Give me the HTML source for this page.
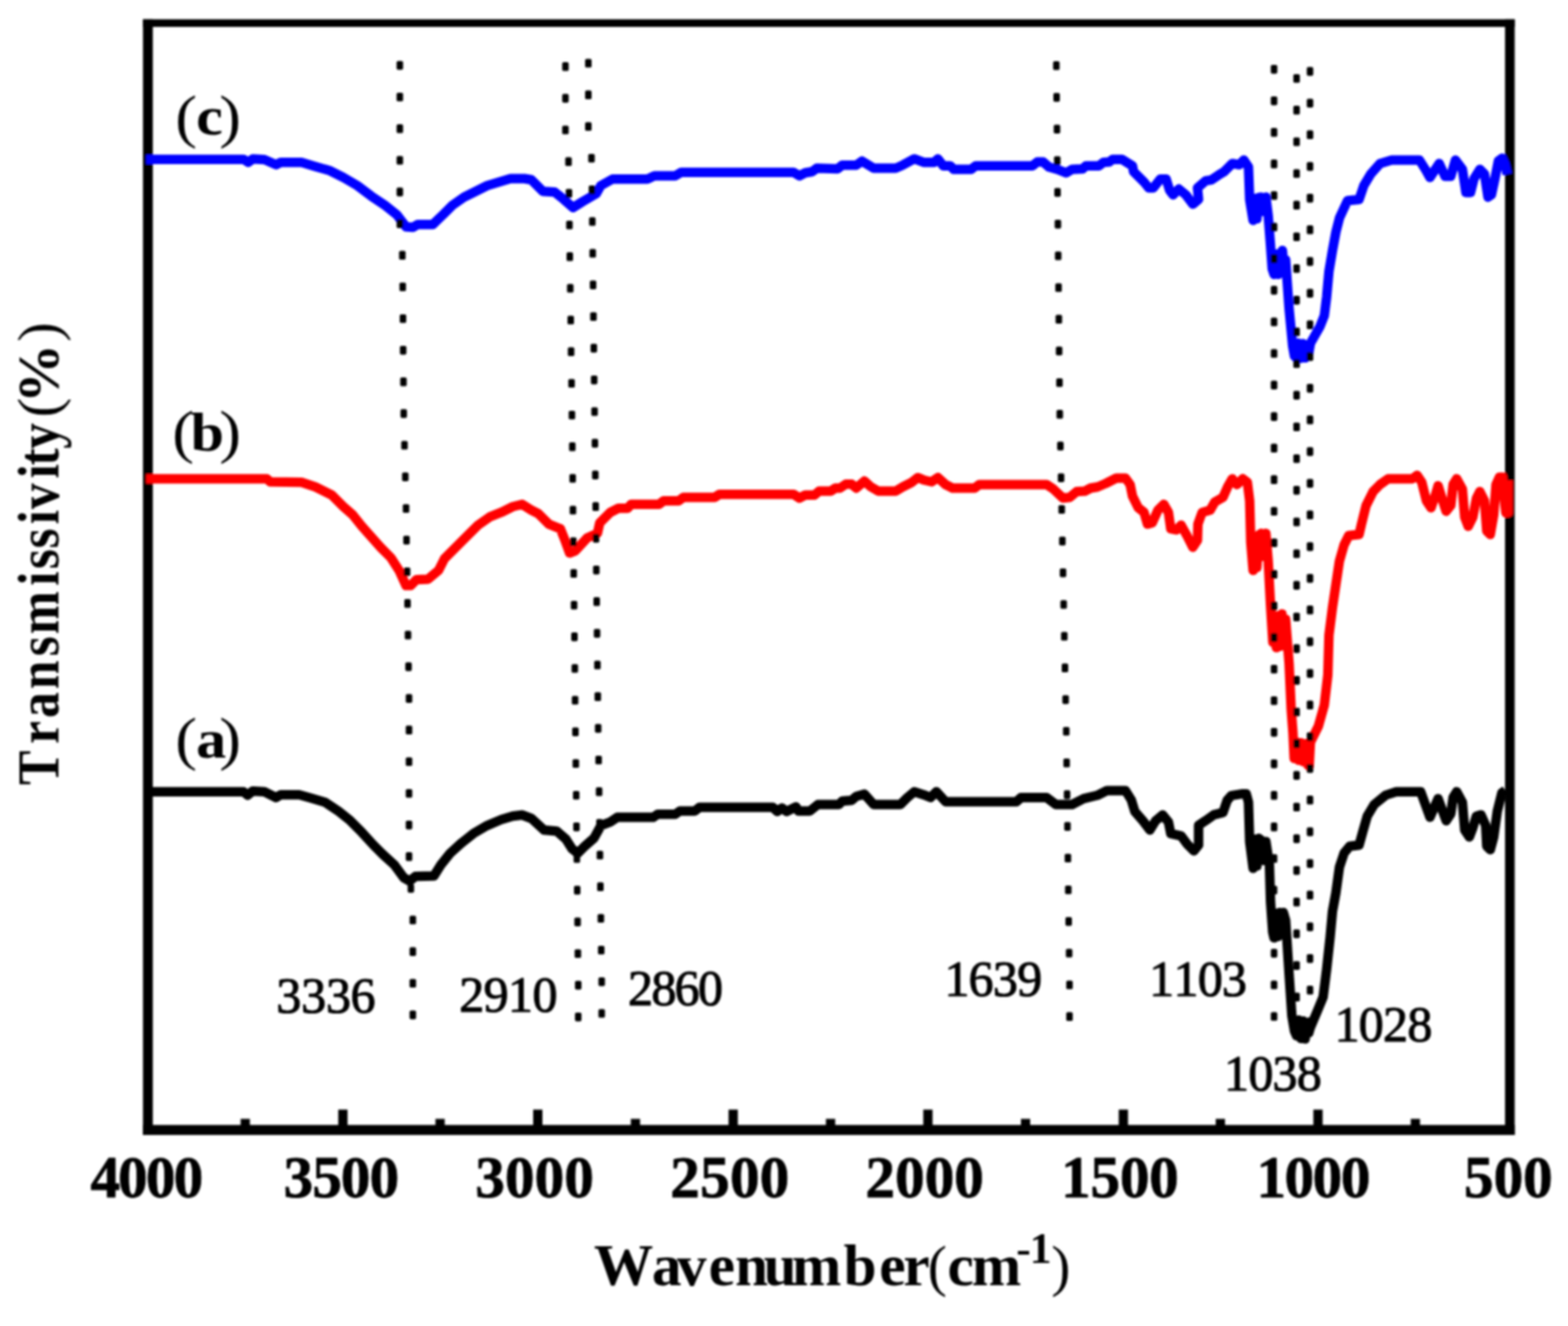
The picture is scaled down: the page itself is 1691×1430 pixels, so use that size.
<!DOCTYPE html>
<html lang="en">
<head>
<meta charset="utf-8">
<title>FTIR spectra</title>
<style>
html,body{margin:0;padding:0;background:#fff;}
body{width:1691px;height:1430px;overflow:hidden;}
svg{display:block;}
text{font-family:"Liberation Serif","DejaVu Serif",serif;fill:#000;}
.tk{font-weight:bold;font-size:64px;stroke:#000;stroke-width:0.8px;stroke-linejoin:round;}
.pk{font-size:54px;stroke:#000;stroke-width:1.1px;stroke-linejoin:round;}
.lb{font-weight:bold;font-size:59px;}
.ax{font-weight:bold;font-size:64px;}
.par{font-weight:normal;}
</style>
</head>
<body>
<svg width="1691" height="1430" viewBox="0 0 1691 1430">
<defs><filter id="soft" filterUnits="userSpaceOnUse" x="0" y="0" width="1691" height="1430"><feGaussianBlur stdDeviation="1.1"/></filter></defs>
<rect x="0" y="0" width="1691" height="1430" fill="#fff"/>
<g filter="url(#soft)">
<g class="frame" fill="#000">
<rect x="154.2" y="20.8" width="10.6" height="1203.2"/>
<rect x="1623.1" y="20.8" width="10.4" height="1203.2"/>
<rect x="154.2" y="20.8" width="1479.3" height="8.2"/>
<rect x="154.2" y="1213.2" width="1479.3" height="10.8"/>
<rect x="259.5" y="1206.6" width="10" height="9.4"/>
<rect x="364.8" y="1196.6" width="10" height="19.4"/>
<rect x="469.6" y="1206.6" width="10" height="9.4"/>
<rect x="575.0" y="1196.6" width="10" height="19.4"/>
<rect x="680.3" y="1206.6" width="10" height="9.4"/>
<rect x="785.7" y="1196.6" width="10" height="19.4"/>
<rect x="890.7" y="1206.6" width="10" height="9.4"/>
<rect x="995.7" y="1196.6" width="10" height="19.4"/>
<rect x="1101.0" y="1206.6" width="10" height="9.4"/>
<rect x="1206.5" y="1196.6" width="10" height="19.4"/>
<rect x="1311.1" y="1206.6" width="10" height="9.4"/>
<rect x="1416.4" y="1196.6" width="10" height="19.4"/>
<rect x="1521.4" y="1206.6" width="10" height="9.4"/>
</g>
<g class="curves">
<polyline points="157.5,171.8 262.6,171.8 267.6,175.1 272.7,171.3 285.2,172.1 297.7,177.6 302.7,175.1 325.2,175.1 340.2,179.6 355.3,183.9 370.3,191.4 385.3,200.1 400.3,211.4 415.3,221.4 427.8,231.4 437.9,244.7 445.4,245.2 450.4,242.2 466.6,242.2 477.9,231.4 487.9,221.4 500.4,212.6 513.0,206.4 525.5,200.1 538.0,196.4 550.5,192.6 565.5,192.6 573.0,193.9 585.5,206.4 598.0,207.1 608.0,215.1 618.0,223.9 628.0,217.6 643.0,208.9 648.0,200.1 660.6,193.1 698.2,193.1 705.7,189.6 728.2,189.6 734.5,185.9 855.9,185.9 862.1,189.6 868.4,186.4 875.9,185.1 880.9,181.4 903.4,182.1 908.4,178.1 923.4,178.1 929.7,173.8 942.2,181.4 966.0,181.4 973.5,178.1 986.0,171.3 996.0,175.1 1007.3,175.1 1011.5,171.3 1017.3,178.8 1024.8,178.8 1028.5,182.6 1047.3,182.6 1052.3,178.8 1113.6,178.8 1118.7,174.6 1124.9,174.6 1131.2,180.1 1139.9,182.6 1149.9,186.4 1156.2,182.6 1167.5,182.1 1171.2,178.8 1185.0,178.8 1190.0,175.1 1196.3,174.6 1200.0,171.8 1210.0,171.8 1221.3,178.8 1222.5,185.1 1233.8,196.4 1238.8,202.6 1243.8,202.6 1251.3,193.1 1257.6,193.1 1261.3,205.1 1265.1,210.1 1271.3,203.9 1278.9,210.1 1286.4,220.2 1292.6,215.1 1291.4,202.6 1300.1,195.1 1306.4,193.9 1313.9,188.9 1320.2,185.1 1328.9,176.3 1336.4,177.6 1341.4,172.6 1346.4,180.1 1347.7,215.1 1351.4,237.7 1353.5,214.0 1355.5,236.0 1357.5,213.0 1360.0,212.6 1362.5,228.0 1365.2,212.6 1367.7,232.7 1370.2,265.2 1372.0,290.0 1374.0,296.0 1376.0,274.0 1378.5,296.0 1381.0,273.0 1383.0,270.0 1384.8,291.0 1386.5,280.2 1390.2,332.8 1394.0,372.8 1396.0,384.0 1398.2,386.0 1400.0,370.0 1402.5,386.5 1405.0,370.5 1407.5,386.0 1410.0,372.0 1411.5,380.0 1413.2,370.3 1423.2,352.8 1428.2,340.3 1430.7,320.3 1433.2,292.7 1437.0,270.2 1440.7,250.2 1444.5,235.2 1453.2,216.4 1465.7,215.1 1470.8,200.1 1478.3,187.6 1488.3,176.3 1500.8,172.6 1530.8,172.6 1537.1,182.6 1542.1,191.4 1547.1,183.9 1552.1,176.3 1558.4,190.1 1564.6,190.1 1569.6,172.6 1577.1,182.6 1580.9,207.6 1585.9,207.6 1589.7,192.6 1595.9,182.6 1600.9,187.6 1604.7,212.6 1608.4,210.1 1612.2,192.6 1615.9,173.6 1620.0,170.5 1623.0,177.0 1625.5,188.0" fill="none" stroke="#0000ff" stroke-width="10.2" stroke-linejoin="round" stroke-linecap="butt"/>
<polyline points="157.5,516.3 287.7,516.3 291.4,519.6 325.2,520.1 340.2,525.1 357.8,533.9 370.3,546.4 380.3,555.1 390.3,567.7 400.3,578.9 410.3,590.2 421.6,601.5 430.4,615.2 437.9,631.5 442.9,631.5 449.1,625.2 461.6,624.7 472.9,615.2 479.2,602.7 490.4,591.4 502.9,578.9 515.5,566.4 528.0,557.6 540.5,552.6 553.0,546.4 563.0,543.9 573.0,550.1 580.5,553.9 591.8,565.2 604.3,570.2 609.3,582.7 614.3,596.4 620.6,593.9 633.1,580.2 644.3,575.2 646.8,563.9 658.1,552.6 666.9,548.1 676.9,548.1 680.6,543.9 710.7,543.9 715.7,540.1 731.9,540.1 737.0,536.4 770.7,536.4 775.8,533.1 855.9,533.1 862.1,537.1 868.4,533.9 878.4,533.9 883.4,529.6 895.9,529.6 900.9,526.4 905.9,526.4 912.2,522.1 918.4,522.1 923.4,526.4 932.2,518.8 938.5,524.6 947.2,529.6 966.0,529.6 973.5,525.1 983.5,520.1 989.8,515.1 996.0,517.6 1004.8,519.6 1011.5,515.1 1019.8,522.6 1027.3,526.4 1051.1,526.4 1056.1,522.6 1128.7,522.6 1136.2,527.6 1146.2,537.1 1153.7,536.4 1161.2,530.1 1170.0,529.6 1176.2,526.4 1183.7,525.1 1192.5,521.4 1203.8,515.6 1213.8,515.6 1218.8,522.6 1221.3,535.1 1227.5,547.6 1233.8,552.6 1237.5,565.2 1242.6,563.9 1248.8,550.1 1255.1,543.9 1260.1,552.6 1262.6,570.2 1268.8,571.4 1273.8,566.4 1280.1,577.7 1286.4,590.2 1291.4,582.7 1291.9,565.2 1296.4,552.6 1305.1,550.1 1310.1,541.4 1318.9,536.4 1323.9,525.1 1328.9,516.3 1333.9,522.6 1340.2,516.3 1345.2,520.1 1347.7,540.1 1348.9,585.2 1351.4,615.2 1353.5,580.0 1355.5,612.0 1357.5,577.0 1360.2,575.2 1362.5,600.0 1365.2,575.2 1367.7,605.2 1370.2,652.8 1372.7,692.8 1374.5,664.0 1376.5,698.5 1378.5,664.0 1380.5,697.0 1382.5,662.0 1384.5,694.0 1386.5,667.8 1390.2,715.3 1392.5,765.4 1394.4,790.4 1395.7,817.9 1398.0,800.0 1400.5,820.0 1403.0,801.0 1405.5,821.5 1408.0,802.0 1410.5,825.0 1411.9,826.0 1413.2,800.4 1421.9,782.9 1428.2,760.3 1432.0,727.8 1433.2,685.2 1437.0,655.2 1440.7,630.2 1444.5,605.1 1449.5,587.6 1454.5,577.6 1465.7,576.4 1468.3,565.1 1473.3,545.1 1480.8,530.1 1488.3,522.5 1497.0,516.3 1523.3,516.3 1528.3,512.5 1533.3,520.0 1538.3,540.1 1543.3,547.6 1548.4,532.6 1550.9,523.8 1555.9,540.1 1559.6,551.3 1564.6,545.1 1567.1,522.5 1570.9,516.3 1577.1,527.5 1579.6,557.6 1583.4,567.6 1588.4,557.6 1592.2,537.6 1595.9,530.1 1600.9,540.1 1603.4,572.6 1607.2,576.5 1610.9,555.1 1613.4,522.5 1617.0,514.5 1620.5,514.5 1622.5,540.0 1624.0,553.0 1626.5,553.0 1626.5,518.0" fill="none" stroke="#ff0000" stroke-width="10.2" stroke-linejoin="round" stroke-linecap="butt"/>
<polyline points="157.5,853.9 262.6,853.9 267.1,857.6 272.7,853.1 285.2,853.9 297.7,860.1 302.7,857.1 322.7,857.1 335.2,860.6 350.3,865.1 365.3,875.1 377.8,885.1 390.3,897.7 402.8,911.4 412.8,921.4 425.3,932.7 435.4,946.5 441.6,950.2 447.9,945.2 467.9,944.7 475.4,932.7 485.4,920.2 497.9,908.9 510.5,898.9 525.5,890.2 540.5,883.9 553.0,880.1 563.0,878.9 573.0,882.6 586.8,895.2 600.5,896.4 610.5,905.2 616.8,915.2 623.1,920.2 630.6,912.7 640.6,903.9 648.1,890.2 658.1,886.4 665.6,881.4 704.4,881.4 709.4,878.1 728.2,878.1 733.2,874.6 749.5,874.6 754.5,870.6 833.3,870.6 838.3,875.1 843.3,871.4 848.3,875.1 858.4,870.1 860.9,874.6 873.4,874.6 882.1,867.6 904.7,867.6 908.4,863.9 918.4,863.1 923.4,858.9 932.2,856.4 942.2,867.6 971.0,867.6 978.5,860.1 986.0,853.9 996.0,857.1 1003.5,860.1 1009.8,853.8 1019.8,864.6 1096.1,864.6 1101.1,860.1 1128.7,860.1 1138.7,867.6 1156.2,867.6 1168.7,861.3 1183.7,857.6 1193.7,852.6 1213.8,852.6 1220.0,862.6 1223.8,875.1 1232.5,885.1 1240.1,895.1 1246.3,885.1 1253.8,878.8 1260.1,886.4 1262.6,898.9 1273.8,901.4 1280.1,910.1 1287.6,917.6 1292.6,911.4 1292.6,890.1 1300.1,885.1 1308.9,878.8 1318.9,876.3 1323.5,863.0 1328.0,858.0 1340.2,856.0 1344.0,856.0 1346.4,865.1 1347.7,907.6 1351.4,936.4 1353.5,905.0 1355.5,934.0 1357.5,904.0 1360.2,906.0 1362.5,928.0 1365.2,907.6 1369.0,932.7 1370.2,972.7 1372.5,1005.0 1374.0,1011.5 1376.0,985.0 1378.0,1010.0 1380.0,984.0 1382.0,1008.0 1384.0,984.0 1386.5,992.7 1390.2,1050.3 1393.2,1095.3 1396.0,1112.0 1398.2,1117.0 1400.5,1100.0 1403.0,1120.0 1405.5,1101.0 1407.5,1120.5 1410.0,1103.0 1411.5,1114.0 1413.2,1107.9 1420.7,1090.3 1426.9,1075.3 1430.7,1045.3 1434.5,1010.2 1437.0,982.7 1440.7,962.7 1444.5,935.1 1449.5,920.1 1455.7,912.6 1465.7,911.4 1469.5,897.6 1474.5,880.1 1482.0,867.6 1494.5,857.5 1505.8,853.8 1532.1,853.8 1537.1,867.6 1542.1,881.3 1547.1,870.1 1550.9,861.3 1555.9,875.1 1559.6,885.1 1564.6,877.6 1567.1,860.0 1570.9,853.8 1577.1,865.1 1579.6,895.1 1584.6,902.6 1588.4,892.6 1592.2,880.1 1597.2,878.8 1602.2,890.1 1603.4,912.6 1607.2,916.4 1610.9,902.6 1614.7,875.1 1619.7,855.0 1623.4,852.5" fill="none" stroke="#000000" stroke-width="10.2" stroke-linejoin="round" stroke-linecap="butt"/>
</g>
<g class="dots" fill="#000">
<rect x="427.7" y="65.8" width="7.0" height="9.4" rx="1.6"/>
<rect x="427.7" y="99.9" width="7.0" height="9.4" rx="1.6"/>
<rect x="427.7" y="134.1" width="7.0" height="9.4" rx="1.6"/>
<rect x="427.7" y="168.2" width="7.0" height="9.4" rx="1.6"/>
<rect x="427.7" y="202.3" width="7.0" height="9.4" rx="1.6"/>
<rect x="427.7" y="236.5" width="7.0" height="9.4" rx="1.6"/>
<rect x="430.4" y="270.6" width="7.0" height="9.4" rx="1.6"/>
<rect x="430.8" y="304.7" width="7.0" height="9.4" rx="1.6"/>
<rect x="431.1" y="338.9" width="7.0" height="9.4" rx="1.6"/>
<rect x="431.3" y="373.0" width="7.0" height="9.4" rx="1.6"/>
<rect x="431.6" y="407.1" width="7.0" height="9.4" rx="1.6"/>
<rect x="431.9" y="441.3" width="7.0" height="9.4" rx="1.6"/>
<rect x="432.7" y="475.4" width="7.0" height="9.4" rx="1.6"/>
<rect x="433.6" y="509.5" width="7.0" height="9.4" rx="1.6"/>
<rect x="434.4" y="543.7" width="7.0" height="9.4" rx="1.6"/>
<rect x="434.9" y="577.8" width="7.0" height="9.4" rx="1.6"/>
<rect x="435.5" y="611.9" width="7.0" height="9.4" rx="1.6"/>
<rect x="436.0" y="646.1" width="7.0" height="9.4" rx="1.6"/>
<rect x="436.5" y="680.2" width="7.0" height="9.4" rx="1.6"/>
<rect x="437.1" y="714.3" width="7.0" height="9.4" rx="1.6"/>
<rect x="437.6" y="748.5" width="7.0" height="9.4" rx="1.6"/>
<rect x="437.6" y="782.6" width="7.0" height="9.4" rx="1.6"/>
<rect x="437.6" y="816.7" width="7.0" height="9.4" rx="1.6"/>
<rect x="437.6" y="850.9" width="7.0" height="9.4" rx="1.6"/>
<rect x="437.6" y="885.0" width="7.0" height="9.4" rx="1.6"/>
<rect x="437.6" y="919.1" width="7.0" height="9.4" rx="1.6"/>
<rect x="439.6" y="953.3" width="7.0" height="9.4" rx="1.6"/>
<rect x="441.7" y="987.4" width="7.0" height="9.4" rx="1.6"/>
<rect x="441.7" y="1021.5" width="7.0" height="9.4" rx="1.6"/>
<rect x="441.7" y="1055.7" width="7.0" height="9.4" rx="1.6"/>
<rect x="441.7" y="1089.8" width="7.0" height="9.4" rx="1.6"/>
<rect x="606.3" y="67.1" width="7.0" height="9.4" rx="1.6"/>
<rect x="606.3" y="101.3" width="7.0" height="9.4" rx="1.6"/>
<rect x="606.3" y="135.4" width="7.0" height="9.4" rx="1.6"/>
<rect x="609.6" y="169.6" width="7.0" height="9.4" rx="1.6"/>
<rect x="610.1" y="203.8" width="7.0" height="9.4" rx="1.6"/>
<rect x="610.6" y="237.9" width="7.0" height="9.4" rx="1.6"/>
<rect x="611.0" y="272.1" width="7.0" height="9.4" rx="1.6"/>
<rect x="611.5" y="306.2" width="7.0" height="9.4" rx="1.6"/>
<rect x="612.0" y="340.4" width="7.0" height="9.4" rx="1.6"/>
<rect x="612.4" y="374.6" width="7.0" height="9.4" rx="1.6"/>
<rect x="612.9" y="408.7" width="7.0" height="9.4" rx="1.6"/>
<rect x="613.3" y="442.9" width="7.0" height="9.4" rx="1.6"/>
<rect x="613.7" y="477.1" width="7.0" height="9.4" rx="1.6"/>
<rect x="614.1" y="511.2" width="7.0" height="9.4" rx="1.6"/>
<rect x="614.4" y="545.4" width="7.0" height="9.4" rx="1.6"/>
<rect x="614.8" y="579.5" width="7.0" height="9.4" rx="1.6"/>
<rect x="615.2" y="613.7" width="7.0" height="9.4" rx="1.6"/>
<rect x="615.6" y="647.9" width="7.0" height="9.4" rx="1.6"/>
<rect x="616.0" y="682.0" width="7.0" height="9.4" rx="1.6"/>
<rect x="616.4" y="716.2" width="7.0" height="9.4" rx="1.6"/>
<rect x="616.7" y="750.4" width="7.0" height="9.4" rx="1.6"/>
<rect x="617.1" y="784.5" width="7.0" height="9.4" rx="1.6"/>
<rect x="617.5" y="818.7" width="7.0" height="9.4" rx="1.6"/>
<rect x="617.9" y="852.9" width="7.0" height="9.4" rx="1.6"/>
<rect x="618.2" y="887.0" width="7.0" height="9.4" rx="1.6"/>
<rect x="618.6" y="921.2" width="7.0" height="9.4" rx="1.6"/>
<rect x="619.0" y="955.3" width="7.0" height="9.4" rx="1.6"/>
<rect x="619.4" y="989.5" width="7.0" height="9.4" rx="1.6"/>
<rect x="619.7" y="1023.7" width="7.0" height="9.4" rx="1.6"/>
<rect x="620.1" y="1057.8" width="7.0" height="9.4" rx="1.6"/>
<rect x="620.1" y="1092.0" width="7.0" height="9.4" rx="1.6"/>
<rect x="631.0" y="63.4" width="7.0" height="9.4" rx="1.6"/>
<rect x="631.0" y="97.6" width="7.0" height="9.4" rx="1.6"/>
<rect x="631.0" y="131.7" width="7.0" height="9.4" rx="1.6"/>
<rect x="634.4" y="165.9" width="7.0" height="9.4" rx="1.6"/>
<rect x="634.9" y="200.0" width="7.0" height="9.4" rx="1.6"/>
<rect x="635.3" y="234.2" width="7.0" height="9.4" rx="1.6"/>
<rect x="635.7" y="268.4" width="7.0" height="9.4" rx="1.6"/>
<rect x="636.1" y="302.5" width="7.0" height="9.4" rx="1.6"/>
<rect x="636.5" y="336.7" width="7.0" height="9.4" rx="1.6"/>
<rect x="636.9" y="370.8" width="7.0" height="9.4" rx="1.6"/>
<rect x="637.3" y="405.0" width="7.0" height="9.4" rx="1.6"/>
<rect x="637.7" y="439.2" width="7.0" height="9.4" rx="1.6"/>
<rect x="638.1" y="473.3" width="7.0" height="9.4" rx="1.6"/>
<rect x="638.5" y="507.5" width="7.0" height="9.4" rx="1.6"/>
<rect x="638.9" y="541.6" width="7.0" height="9.4" rx="1.6"/>
<rect x="639.3" y="575.8" width="7.0" height="9.4" rx="1.6"/>
<rect x="639.6" y="610.0" width="7.0" height="9.4" rx="1.6"/>
<rect x="640.0" y="644.1" width="7.0" height="9.4" rx="1.6"/>
<rect x="640.4" y="678.3" width="7.0" height="9.4" rx="1.6"/>
<rect x="640.8" y="712.4" width="7.0" height="9.4" rx="1.6"/>
<rect x="641.2" y="746.6" width="7.0" height="9.4" rx="1.6"/>
<rect x="641.6" y="780.8" width="7.0" height="9.4" rx="1.6"/>
<rect x="642.1" y="814.9" width="7.0" height="9.4" rx="1.6"/>
<rect x="642.6" y="849.1" width="7.0" height="9.4" rx="1.6"/>
<rect x="643.0" y="883.2" width="7.0" height="9.4" rx="1.6"/>
<rect x="643.5" y="917.4" width="7.0" height="9.4" rx="1.6"/>
<rect x="644.0" y="951.6" width="7.0" height="9.4" rx="1.6"/>
<rect x="644.5" y="985.7" width="7.0" height="9.4" rx="1.6"/>
<rect x="644.9" y="1019.9" width="7.0" height="9.4" rx="1.6"/>
<rect x="645.4" y="1054.0" width="7.0" height="9.4" rx="1.6"/>
<rect x="645.4" y="1088.2" width="7.0" height="9.4" rx="1.6"/>
<rect x="1135.7" y="66.1" width="7.0" height="9.4" rx="1.6"/>
<rect x="1136.0" y="100.3" width="7.0" height="9.4" rx="1.6"/>
<rect x="1136.4" y="134.5" width="7.0" height="9.4" rx="1.6"/>
<rect x="1136.7" y="168.6" width="7.0" height="9.4" rx="1.6"/>
<rect x="1137.0" y="202.8" width="7.0" height="9.4" rx="1.6"/>
<rect x="1137.4" y="237.0" width="7.0" height="9.4" rx="1.6"/>
<rect x="1137.7" y="271.2" width="7.0" height="9.4" rx="1.6"/>
<rect x="1138.1" y="305.4" width="7.0" height="9.4" rx="1.6"/>
<rect x="1138.4" y="339.6" width="7.0" height="9.4" rx="1.6"/>
<rect x="1138.7" y="373.8" width="7.0" height="9.4" rx="1.6"/>
<rect x="1139.1" y="407.9" width="7.0" height="9.4" rx="1.6"/>
<rect x="1139.4" y="442.1" width="7.0" height="9.4" rx="1.6"/>
<rect x="1140.1" y="476.3" width="7.0" height="9.4" rx="1.6"/>
<rect x="1140.8" y="510.5" width="7.0" height="9.4" rx="1.6"/>
<rect x="1141.5" y="544.7" width="7.0" height="9.4" rx="1.6"/>
<rect x="1142.2" y="578.8" width="7.0" height="9.4" rx="1.6"/>
<rect x="1142.9" y="613.0" width="7.0" height="9.4" rx="1.6"/>
<rect x="1143.6" y="647.2" width="7.0" height="9.4" rx="1.6"/>
<rect x="1144.3" y="681.4" width="7.0" height="9.4" rx="1.6"/>
<rect x="1145.0" y="715.6" width="7.0" height="9.4" rx="1.6"/>
<rect x="1145.7" y="749.8" width="7.0" height="9.4" rx="1.6"/>
<rect x="1146.4" y="783.9" width="7.0" height="9.4" rx="1.6"/>
<rect x="1146.8" y="818.1" width="7.0" height="9.4" rx="1.6"/>
<rect x="1147.3" y="852.3" width="7.0" height="9.4" rx="1.6"/>
<rect x="1147.7" y="886.5" width="7.0" height="9.4" rx="1.6"/>
<rect x="1148.2" y="920.7" width="7.0" height="9.4" rx="1.6"/>
<rect x="1148.6" y="954.9" width="7.0" height="9.4" rx="1.6"/>
<rect x="1149.0" y="989.0" width="7.0" height="9.4" rx="1.6"/>
<rect x="1149.5" y="1023.2" width="7.0" height="9.4" rx="1.6"/>
<rect x="1149.9" y="1057.4" width="7.0" height="9.4" rx="1.6"/>
<rect x="1149.9" y="1091.6" width="7.0" height="9.4" rx="1.6"/>
<rect x="1370.5" y="70.0" width="7.0" height="9.4" rx="1.6"/>
<rect x="1370.5" y="104.0" width="7.0" height="9.4" rx="1.6"/>
<rect x="1370.5" y="138.1" width="7.0" height="9.4" rx="1.6"/>
<rect x="1370.5" y="172.1" width="7.0" height="9.4" rx="1.6"/>
<rect x="1370.5" y="206.2" width="7.0" height="9.4" rx="1.6"/>
<rect x="1370.5" y="240.2" width="7.0" height="9.4" rx="1.6"/>
<rect x="1370.5" y="274.3" width="7.0" height="9.4" rx="1.6"/>
<rect x="1370.5" y="308.3" width="7.0" height="9.4" rx="1.6"/>
<rect x="1370.5" y="342.4" width="7.0" height="9.4" rx="1.6"/>
<rect x="1370.5" y="376.4" width="7.0" height="9.4" rx="1.6"/>
<rect x="1370.5" y="410.5" width="7.0" height="9.4" rx="1.6"/>
<rect x="1370.5" y="444.5" width="7.0" height="9.4" rx="1.6"/>
<rect x="1370.5" y="478.6" width="7.0" height="9.4" rx="1.6"/>
<rect x="1370.5" y="512.6" width="7.0" height="9.4" rx="1.6"/>
<rect x="1370.5" y="546.7" width="7.0" height="9.4" rx="1.6"/>
<rect x="1370.5" y="580.7" width="7.0" height="9.4" rx="1.6"/>
<rect x="1370.5" y="614.7" width="7.0" height="9.4" rx="1.6"/>
<rect x="1370.5" y="648.8" width="7.0" height="9.4" rx="1.6"/>
<rect x="1370.5" y="682.8" width="7.0" height="9.4" rx="1.6"/>
<rect x="1370.5" y="716.9" width="7.0" height="9.4" rx="1.6"/>
<rect x="1370.5" y="750.9" width="7.0" height="9.4" rx="1.6"/>
<rect x="1370.5" y="785.0" width="7.0" height="9.4" rx="1.6"/>
<rect x="1370.5" y="819.0" width="7.0" height="9.4" rx="1.6"/>
<rect x="1370.5" y="853.1" width="7.0" height="9.4" rx="1.6"/>
<rect x="1370.5" y="887.1" width="7.0" height="9.4" rx="1.6"/>
<rect x="1370.5" y="921.2" width="7.0" height="9.4" rx="1.6"/>
<rect x="1370.5" y="955.2" width="7.0" height="9.4" rx="1.6"/>
<rect x="1370.5" y="989.3" width="7.0" height="9.4" rx="1.6"/>
<rect x="1370.5" y="1023.3" width="7.0" height="9.4" rx="1.6"/>
<rect x="1370.5" y="1057.4" width="7.0" height="9.4" rx="1.6"/>
<rect x="1370.5" y="1091.4" width="7.0" height="9.4" rx="1.6"/>
<rect x="1394.8" y="79.9" width="7.0" height="9.4" rx="1.6"/>
<rect x="1394.8" y="114.1" width="7.0" height="9.4" rx="1.6"/>
<rect x="1394.8" y="148.2" width="7.0" height="9.4" rx="1.6"/>
<rect x="1394.8" y="182.4" width="7.0" height="9.4" rx="1.6"/>
<rect x="1394.8" y="216.6" width="7.0" height="9.4" rx="1.6"/>
<rect x="1394.8" y="250.7" width="7.0" height="9.4" rx="1.6"/>
<rect x="1394.8" y="284.9" width="7.0" height="9.4" rx="1.6"/>
<rect x="1394.8" y="319.0" width="7.0" height="9.4" rx="1.6"/>
<rect x="1394.8" y="353.2" width="7.0" height="9.4" rx="1.6"/>
<rect x="1394.8" y="387.4" width="7.0" height="9.4" rx="1.6"/>
<rect x="1394.8" y="421.5" width="7.0" height="9.4" rx="1.6"/>
<rect x="1394.8" y="455.7" width="7.0" height="9.4" rx="1.6"/>
<rect x="1394.8" y="489.9" width="7.0" height="9.4" rx="1.6"/>
<rect x="1394.8" y="524.0" width="7.0" height="9.4" rx="1.6"/>
<rect x="1394.8" y="558.2" width="7.0" height="9.4" rx="1.6"/>
<rect x="1394.8" y="592.4" width="7.0" height="9.4" rx="1.6"/>
<rect x="1394.8" y="626.5" width="7.0" height="9.4" rx="1.6"/>
<rect x="1394.8" y="660.7" width="7.0" height="9.4" rx="1.6"/>
<rect x="1394.8" y="694.8" width="7.0" height="9.4" rx="1.6"/>
<rect x="1394.8" y="729.0" width="7.0" height="9.4" rx="1.6"/>
<rect x="1394.8" y="763.2" width="7.0" height="9.4" rx="1.6"/>
<rect x="1394.8" y="797.3" width="7.0" height="9.4" rx="1.6"/>
<rect x="1394.8" y="831.5" width="7.0" height="9.4" rx="1.6"/>
<rect x="1394.8" y="865.7" width="7.0" height="9.4" rx="1.6"/>
<rect x="1394.8" y="899.8" width="7.0" height="9.4" rx="1.6"/>
<rect x="1394.8" y="934.0" width="7.0" height="9.4" rx="1.6"/>
<rect x="1394.8" y="968.1" width="7.0" height="9.4" rx="1.6"/>
<rect x="1394.8" y="1002.3" width="7.0" height="9.4" rx="1.6"/>
<rect x="1394.8" y="1036.5" width="7.0" height="9.4" rx="1.6"/>
<rect x="1394.8" y="1070.6" width="7.0" height="9.4" rx="1.6"/>
<rect x="1394.8" y="1104.8" width="7.0" height="9.4" rx="1.6"/>
<rect x="1409.3" y="72.3" width="7.0" height="9.4" rx="1.6"/>
<rect x="1409.3" y="106.5" width="7.0" height="9.4" rx="1.6"/>
<rect x="1409.3" y="140.6" width="7.0" height="9.4" rx="1.6"/>
<rect x="1409.3" y="174.8" width="7.0" height="9.4" rx="1.6"/>
<rect x="1409.3" y="209.0" width="7.0" height="9.4" rx="1.6"/>
<rect x="1409.3" y="243.1" width="7.0" height="9.4" rx="1.6"/>
<rect x="1409.3" y="277.3" width="7.0" height="9.4" rx="1.6"/>
<rect x="1409.3" y="311.5" width="7.0" height="9.4" rx="1.6"/>
<rect x="1409.3" y="345.6" width="7.0" height="9.4" rx="1.6"/>
<rect x="1409.3" y="379.8" width="7.0" height="9.4" rx="1.6"/>
<rect x="1409.3" y="414.0" width="7.0" height="9.4" rx="1.6"/>
<rect x="1409.3" y="448.1" width="7.0" height="9.4" rx="1.6"/>
<rect x="1409.3" y="482.3" width="7.0" height="9.4" rx="1.6"/>
<rect x="1409.3" y="516.5" width="7.0" height="9.4" rx="1.6"/>
<rect x="1409.3" y="550.6" width="7.0" height="9.4" rx="1.6"/>
<rect x="1409.3" y="584.8" width="7.0" height="9.4" rx="1.6"/>
<rect x="1409.3" y="619.0" width="7.0" height="9.4" rx="1.6"/>
<rect x="1409.3" y="653.1" width="7.0" height="9.4" rx="1.6"/>
<rect x="1409.3" y="687.3" width="7.0" height="9.4" rx="1.6"/>
<rect x="1409.3" y="721.5" width="7.0" height="9.4" rx="1.6"/>
<rect x="1409.3" y="755.6" width="7.0" height="9.4" rx="1.6"/>
<rect x="1409.3" y="789.8" width="7.0" height="9.4" rx="1.6"/>
<rect x="1409.3" y="824.0" width="7.0" height="9.4" rx="1.6"/>
<rect x="1409.3" y="858.1" width="7.0" height="9.4" rx="1.6"/>
<rect x="1409.3" y="892.3" width="7.0" height="9.4" rx="1.6"/>
<rect x="1409.3" y="926.5" width="7.0" height="9.4" rx="1.6"/>
<rect x="1409.3" y="960.6" width="7.0" height="9.4" rx="1.6"/>
<rect x="1409.3" y="994.8" width="7.0" height="9.4" rx="1.6"/>
<rect x="1409.3" y="1029.0" width="7.0" height="9.4" rx="1.6"/>
<rect x="1409.3" y="1063.1" width="7.0" height="9.4" rx="1.6"/>
<rect x="1409.3" y="1097.3" width="7.0" height="9.4" rx="1.6"/>
</g>
<g class="ticklabels">
<text class="tk" x="97.4 127.33 157.27 187.2" y="1291.2">4000</text>
<text class="tk" x="305.7 336.63 367.57 398.5" y="1291.2">3500</text>
<text class="tk" x="512.6 544.57 576.53 608.5" y="1291.2">3000</text>
<text class="tk" x="722.78 754.95 787.13 819.3" y="1291.2">2500</text>
<text class="tk" x="933.18 965.15 997.13 1029.1" y="1291.2">2000</text>
<text class="tk" x="1144.28 1175.95 1207.63 1239.3" y="1291.2">1500</text>
<text class="tk" x="1354.88 1385.22 1415.56 1445.9" y="1291.2">1000</text>
<text class="tk" x="1578.84 1610.67 1642.5" y="1291.2">500</text>
</g>
<g class="peaks">
<text class="pk" x="298.03 324.73 351.42 378.12" y="1091.6">3336</text>
<text class="pk" x="495.17 521.52 547.87 574.23" y="1091.4">2910</text>
<text class="pk" x="677.37 702.49 727.61 752.73" y="1084.3">2860</text>
<text class="pk" x="1018.38 1044.57 1070.76 1096.96" y="1073.7">1639</text>
<text class="pk" x="1239.18 1265.4 1291.63 1317.86" y="1073.7">1103</text>
<text class="pk" x="1439.18 1465.36 1491.54 1517.73" y="1122.9">1028</text>
<text class="pk" x="1319.98 1346.16 1372.34 1398.53" y="1175.6">1038</text>
</g>
<g class="labels">
<text class="lb" transform="scale(1.1 1)" x="171.85 192.21 214.99" y="145.2"><tspan class="par" font-size="64" dy="1.4">(</tspan><tspan dy="-1.4">c</tspan><tspan class="par" font-size="64" dy="1.4">)</tspan></text>
<text class="lb" transform="scale(1.1 1)" x="168.85 186.81 214.99" y="485.9"><tspan class="par" font-size="64" dy="1.4">(</tspan><tspan dy="-1.4">b</tspan><tspan class="par" font-size="64" dy="1.4">)</tspan></text>
<text class="lb" transform="scale(1.1 1)" x="171.85 192.36 214.99" y="816.8"><tspan class="par" font-size="64" dy="1.4">(</tspan><tspan dy="-1.4">a</tspan><tspan class="par" font-size="64" dy="1.4">)</tspan></text>
</g>
<text class="ax" x="640.5 703.1 730 764.3 792.8 823.4 854.1 909.8 948.2 974.2 1000.4 1021.8 1047.9 1096 1110.5 1133.7" y="1385.8">Wavenumber<tspan class="par" font-size="62">(</tspan>cm<tspan font-size="47" dy="-24.3">-1</tspan><tspan class="par" font-size="62" dy="24.3">)</tspan></text>
<text class="ax" transform="translate(62.9 846.5) rotate(-90) scale(0.87 1)" x="0.02 50.83 83.1 118.56 159.54 186.83 246.91 267.53 292.99 322.89 341.93 379.79 395.94 416.76" y="0">Transmissivity</text><text class="ax" transform="translate(62.9 846.5) rotate(-90)" x="396.43 411.81 477.94" y="0"><tspan class="par" font-size="63">(</tspan>%<tspan class="par" font-size="63">)</tspan></text>
</g>
</svg>
</body>
</html>
